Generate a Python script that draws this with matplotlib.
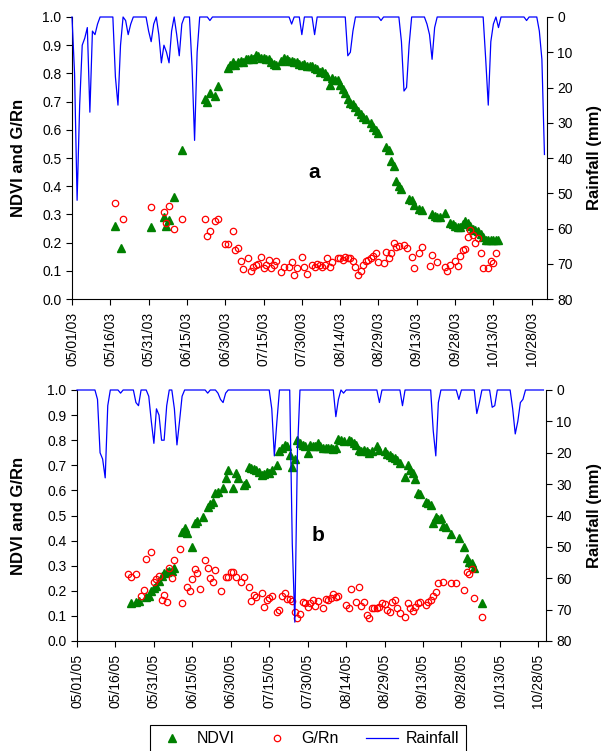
"""NDVI, G/Rn and rainfall for the 2003 (a) and 2005 (b) seasons."""

import matplotlib

matplotlib.use("Agg")
import numpy as np
from matplotlib import pyplot as plt
from matplotlib.dates import DateFormatter
from matplotlib.ticker import FormatStrFormatter, MultipleLocator

plt.rcParams["font.family"] = ["Liberation Sans", "DejaVu Sans"]

# ========== Data (days after 1 May of each year) ==========

START_03 = "2003-05-01"
ndvi03_day = [17, 19, 31, 36, 37, 38, 40, 43, 52, 53, 54, 56, 57,
              61, 62, 63, 64, 65, 66, 67, 68, 69, 70, 71, 72, 73, 74, 75, 76, 77, 78, 79, 80,
              82, 83, 84, 85, 86, 87, 88, 89, 90, 91, 92, 93, 94, 95, 96, 97, 98, 99, 100,
              101, 102, 103, 104, 105, 106, 107, 108, 109, 110, 111, 112, 113, 114, 115,
              117, 118, 119, 120, 123, 124, 125, 126, 127, 128, 129, 132, 133, 134, 136, 137,
              141, 142, 143, 144, 146, 148, 149, 150, 151, 152, 153, 154, 155, 156, 157, 158,
              159, 160, 161, 162, 163, 164, 165, 166, 167]
ndvi03 = [0.26, 0.18, 0.255, 0.29, 0.26, 0.28, 0.36, 0.53, 0.71, 0.70, 0.73, 0.72, 0.755,
          0.82, 0.83, 0.84, 0.83, 0.84, 0.845, 0.84, 0.85, 0.85, 0.855, 0.85, 0.865, 0.86, 0.855,
          0.855, 0.85, 0.85, 0.84, 0.835, 0.83,
          0.845, 0.855, 0.85, 0.845, 0.845, 0.84, 0.84, 0.835, 0.83, 0.835, 0.825, 0.825, 0.825,
          0.82, 0.815, 0.805, 0.81, 0.80, 0.79, 0.76, 0.785, 0.775, 0.775, 0.76, 0.745, 0.73,
          0.71, 0.695, 0.69, 0.68, 0.665, 0.655, 0.645, 0.64,
          0.625, 0.61, 0.60, 0.59, 0.54, 0.53, 0.49, 0.47, 0.42, 0.40, 0.39, 0.355, 0.35, 0.335,
          0.32, 0.315, 0.30, 0.295, 0.29, 0.29, 0.305, 0.27, 0.265, 0.26, 0.255, 0.255, 0.265,
          0.275, 0.27, 0.26, 0.25, 0.245, 0.24, 0.23, 0.22, 0.21, 0.21, 0.21, 0.21, 0.21, 0.21]

grn03_day = [17, 20, 31, 36, 37, 38, 40, 43, 52, 53, 54, 56, 57, 60, 61, 63, 64, 65, 66, 67,
             69, 70, 71, 72, 73, 74, 75, 76, 77, 78, 79, 80, 82, 83, 85, 86, 87, 88, 90, 91, 92,
             94, 95, 96, 97, 98, 99, 100, 101, 102, 104, 105, 106, 107, 108, 109, 110, 111, 112,
             113, 114, 115, 116, 117, 118, 119, 120, 122, 123, 124, 125, 126, 127, 128, 130, 131,
             133, 134, 136, 137, 140, 141, 143, 146, 147, 148, 150, 151, 152, 153, 154, 155, 156,
             157, 158, 159, 160, 161, 163, 164, 165, 166]
grn03 = [0.34, 0.285, 0.325, 0.31, 0.27, 0.33, 0.25, 0.285, 0.285, 0.225, 0.24, 0.275, 0.285,
         0.195, 0.195, 0.24, 0.175, 0.18, 0.135, 0.105,
         0.145, 0.10, 0.115, 0.12, 0.125, 0.15, 0.11, 0.12, 0.14, 0.11, 0.12, 0.135, 0.095, 0.115,
         0.115, 0.13, 0.085, 0.11, 0.15, 0.115, 0.09,
         0.12, 0.115, 0.125, 0.12, 0.115, 0.12, 0.145, 0.115, 0.13, 0.145, 0.145, 0.14, 0.15,
         0.145, 0.145, 0.135, 0.115, 0.085, 0.10, 0.12, 0.135, 0.14, 0.145, 0.152, 0.163, 0.13,
         0.127, 0.167, 0.145, 0.163, 0.20, 0.185, 0.187, 0.19, 0.18, 0.15, 0.11, 0.163, 0.185,
         0.117, 0.155, 0.13, 0.115, 0.10, 0.12, 0.135, 0.117, 0.152, 0.173, 0.177, 0.22, 0.245,
         0.227, 0.20, 0.215, 0.163, 0.11, 0.11, 0.135, 0.127, 0.163]

rain03_day = [1, 2, 3, 4, 5, 6, 7, 8, 9, 10, 17, 18, 19, 21, 22, 23, 30, 31, 32,
              34, 35, 36, 37, 38, 39, 41, 42, 43, 47, 48, 49, 54, 86, 90, 95, 108, 109, 110,
              121, 129, 130, 131, 132, 139, 140, 141, 142, 162, 163, 164, 165, 167, 178,
              183, 184, 185]
rain03_mm = [16, 52, 25, 8, 6, 3, 27, 4, 5, 2, 17, 25, 8, 1, 5, 2, 4, 7, 2,
             5, 13, 8, 10, 13, 4, 5, 11, 2, 14, 35, 10, 1, 2, 5, 5, 11, 10, 4,
             1, 7, 21, 20, 8, 2, 5, 12, 3, 12, 25, 7, 2, 3, 1,
             4, 12, 39]

START_05 = "2005-05-01"
ndvi05_day = [21, 23, 24, 27, 28, 29, 30, 31, 32, 33, 34, 35, 36, 37, 38, 41, 42, 43, 45, 46,
              47, 49, 51, 52, 53, 54, 55, 57, 58, 59, 61, 62, 63, 65, 66, 67, 68, 69, 70, 71, 72,
              73, 74, 75, 76, 78, 79, 80, 81, 82, 83, 84, 85, 86, 87, 88, 89, 90, 91, 92, 93, 94,
              95, 96, 97, 98, 99, 100, 101, 102, 103, 104, 106, 107, 108, 109, 110, 111, 112, 113,
              114, 115, 117, 118, 120, 121, 122, 123, 124, 125, 126, 128, 129, 130, 131, 132, 133,
              134, 136, 137, 138, 139, 140, 141, 142, 143, 144, 146, 149, 151, 152, 153, 154, 155,
              158]
ndvi05 = [0.15, 0.155, 0.16, 0.175, 0.18, 0.20, 0.21, 0.22, 0.24, 0.26, 0.27, 0.275, 0.28, 0.28,
          0.29, 0.435, 0.45, 0.43, 0.375, 0.47, 0.48, 0.495, 0.535, 0.545, 0.555, 0.59, 0.595,
          0.61, 0.65, 0.68, 0.61, 0.67, 0.65, 0.62, 0.63, 0.695, 0.69, 0.685, 0.68, 0.675, 0.66,
          0.665, 0.675, 0.67, 0.68, 0.70, 0.755, 0.77, 0.78, 0.775, 0.74, 0.695, 0.725, 0.80,
          0.79, 0.78, 0.775, 0.75, 0.78, 0.775, 0.775, 0.79, 0.775, 0.77, 0.77, 0.77, 0.77,
          0.765, 0.77, 0.805, 0.80, 0.795, 0.80, 0.795, 0.79, 0.78, 0.76, 0.755, 0.76, 0.755,
          0.75, 0.755, 0.775, 0.76, 0.755, 0.745, 0.74, 0.735, 0.73, 0.72, 0.71, 0.655, 0.70,
          0.68, 0.67, 0.645, 0.59, 0.585, 0.555, 0.55, 0.54, 0.47, 0.495, 0.485, 0.49, 0.46,
          0.455, 0.425, 0.41, 0.375, 0.33, 0.315, 0.31, 0.29, 0.15]

grn05_day = [20, 21, 23, 25, 26, 27, 29, 30, 31, 32, 33, 34, 35, 36, 37, 38, 40, 41, 43, 44,
             45, 46, 47, 48, 50, 51, 52, 53, 54, 56, 58, 59, 60, 61, 62, 64, 65, 67, 68, 69, 70,
             72, 73, 74, 75, 76, 78, 79, 80, 81, 82, 83, 84, 85, 86, 87, 88, 89, 90, 91, 92, 93,
             94, 96, 97, 98, 99, 100, 101, 102, 105, 106, 107, 109, 110, 111, 112, 113, 114, 115,
             116, 117, 118, 119, 120, 121, 122, 123, 124, 125, 126, 128, 129, 130, 131, 132, 133,
             134, 136, 137, 138, 139, 140, 141, 143, 146, 148, 151, 152, 153, 154, 155, 158]
grn05 = [0.267, 0.255, 0.267, 0.18, 0.203, 0.327, 0.355, 0.235, 0.247, 0.26, 0.163, 0.183,
         0.155, 0.29, 0.25, 0.323, 0.367, 0.15, 0.215, 0.20, 0.247, 0.287, 0.27, 0.207, 0.323,
         0.29, 0.25, 0.235, 0.283, 0.20, 0.255, 0.255, 0.275, 0.275, 0.255, 0.235, 0.255, 0.215,
         0.16, 0.183, 0.175, 0.19, 0.135, 0.163, 0.17, 0.18, 0.115, 0.123, 0.18, 0.19, 0.167,
         0.167, 0.16, 0.115, 0.09, 0.107, 0.155, 0.15, 0.135, 0.15, 0.163, 0.14, 0.16, 0.13,
         0.167, 0.165, 0.17, 0.187, 0.175, 0.18, 0.143, 0.13, 0.207, 0.155, 0.215, 0.14, 0.155,
         0.103, 0.09, 0.13, 0.13, 0.13, 0.135, 0.15, 0.147, 0.123, 0.115, 0.155, 0.163, 0.13,
         0.113, 0.097, 0.15, 0.13, 0.12, 0.135, 0.15, 0.155, 0.143, 0.155, 0.163, 0.18, 0.195,
         0.23, 0.235, 0.23, 0.23, 0.203, 0.275, 0.267, 0.287, 0.17, 0.097]

rain05_day = [8, 9, 10, 11, 12, 17, 23, 24, 28, 29, 30, 31, 32, 33, 34, 35, 38, 39, 40, 41,
              51, 55, 56, 57, 58, 76, 77, 78, 84, 85, 86, 101, 102, 104, 118, 127, 139, 140, 141,
              149, 156, 157, 162, 163, 170, 171, 172, 173, 174]
rain05_mm = [3, 20, 22, 28, 5, 1, 4, 5, 2, 10, 17, 6, 8, 16, 16, 5, 6, 17.5, 10, 2,
             1, 1, 3, 4, 1, 6, 21, 10, 49, 74, 20, 8.5, 3, 1, 4, 5, 13, 21, 4,
             3, 7.5, 4, 5.5, 5, 6, 14, 10, 4, 3]

GREEN = "#008000"
RED = "#ff0000"
BLUE = "#0000ff"


def to_dates(start, days):
    return np.datetime64(start) + np.asarray(days).astype("timedelta64[D]")


def draw_panel(ax, start, n_days, ndvi_day, ndvi, grn_day, grn, rain_day, rain_mm, tag, tag_xy):
    h_ndvi, = ax.plot(to_dates(start, ndvi_day), ndvi, ls="none", marker="^", ms=5.5,
                      color=GREEN, label="NDVI")
    h_grn, = ax.plot(to_dates(start, grn_day), grn, ls="none", marker="o", ms=4.6,
                     mfc="none", mec=RED, mew=0.9, label="G/Rn")
    ax.set_xlim(to_dates(start, [0, n_days]))
    ax.set_ylim(0, 1)
    ax.yaxis.set_major_locator(MultipleLocator(0.1))
    ax.yaxis.set_major_formatter(FormatStrFormatter("%.1f"))
    ax.set_xticks(to_dates(start, np.arange(0, 181, 15)))
    ax.xaxis.set_major_formatter(DateFormatter("%m/%d/%y"))
    ax.tick_params(direction="out", length=4, width=0.8, labelsize=10)
    ax.tick_params(axis="x", labelrotation=90, pad=5)
    ax.set_ylabel("NDVI and G/Rn", fontsize=12, fontweight="bold", va="center")
    ax.spines[["top", "right"]].set_visible(False)
    ax.text(*tag_xy, tag, transform=ax.transAxes, fontsize=15, fontweight="bold",
            ha="center", va="center")

    # daily rainfall series, zero on days without rain
    rain = np.zeros(n_days)
    rain[rain_day] = rain_mm
    axr = ax.twinx()
    h_rain, = axr.plot(to_dates(start, np.arange(n_days)), rain, color=BLUE, lw=0.9,
                       clip_on=False, label="Rainfall")
    axr.set_ylim(80, 0)
    axr.yaxis.set_major_locator(MultipleLocator(10))
    axr.tick_params(direction="out", length=4, width=0.8, labelsize=10)
    axr.set_ylabel("Rainfall (mm)", fontsize=12, fontweight="bold", rotation=90,
                   va="center", ha="center")
    axr.spines[["top", "left", "bottom"]].set_visible(False)
    return axr, [h_ndvi, h_grn, h_rain]


fig = plt.figure(figsize=(6.05, 7.51), dpi=100)
ax_a = fig.add_axes([72 / 605, 1 - 299 / 751, 475 / 605, 282 / 751])
ax_b = fig.add_axes([77 / 605, 1 - 641 / 751, 469 / 605, 251 / 751])

axr_a, handles = draw_panel(ax_a, START_03, 186, ndvi03_day, ndvi03, grn03_day, grn03,
                            rain03_day, rain03_mm, "a", (0.509, 0.45))
axr_b, _ = draw_panel(ax_b, START_05, 183, ndvi05_day, ndvi05, grn05_day, grn05,
                      rain05_day, rain05_mm, "b", (0.514, 0.42))

ax_a.yaxis.set_label_coords((19 - 72) / 475, 0.5)
ax_b.yaxis.set_label_coords((19 - 77) / 469, 0.5)
axr_a.yaxis.set_label_coords((595 - 72) / 475, 0.5)
axr_b.yaxis.set_label_coords((595 - 77) / 469, 0.5)

leg = fig.legend(handles=handles, loc="upper left", bbox_to_anchor=(150 / 605, 1 - 725 / 751),
                 ncol=3, fontsize=11.5, frameon=True, fancybox=False, edgecolor="black",
                 framealpha=1, handlelength=2.0, handletextpad=0.5, columnspacing=1.7,
                 borderpad=0.4, borderaxespad=0)
leg.get_frame().set_linewidth(0.8)

fig.savefig("out.png", dpi=100)
